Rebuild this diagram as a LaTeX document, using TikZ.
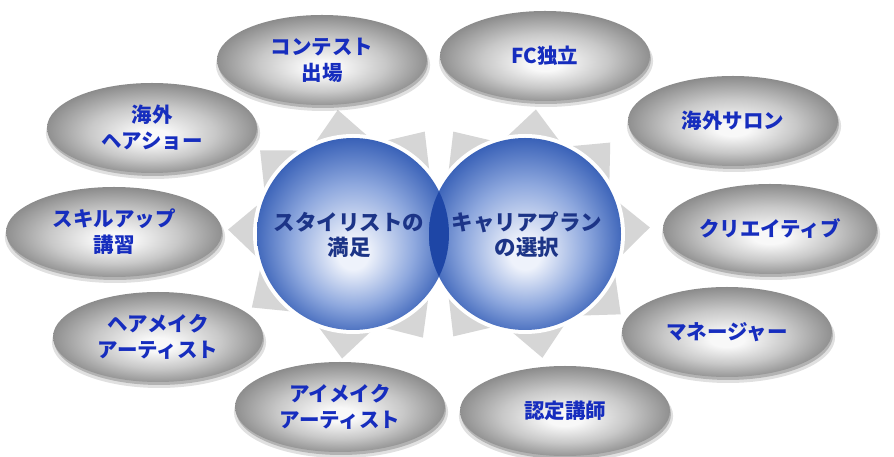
\documentclass[tikz,border=0pt]{standalone}
\usepackage{fontspec}
\setmainfont{Noto Sans CJK JP}
\usetikzlibrary{shapes.geometric,shadows}
\definecolor{tri}{RGB}{214,214,214}
\definecolor{ballhi}{RGB}{238,242,251}
\definecolor{ballmid}{RGB}{142,168,222}
\definecolor{balledge}{RGB}{58,98,184}
\definecolor{balledgeb}{RGB}{45,82,168}
\definecolor{lens}{RGB}{30,70,166}
\definecolor{eggW}{RGB}{248,248,248}
\definecolor{eggM}{RGB}{200,200,200}
\definecolor{eggE}{RGB}{138,138,138}
\definecolor{etext}{RGB}{22,45,190}
\definecolor{ctext}{RGB}{28,52,135}
\pgfdeclareradialshading{ball}{\pgfpoint{0bp}{-6bp}}{color(0bp)=(ballhi); color(4bp)=(ballhi); color(16bp)=(ballmid); color(26bp)=(balledge); color(32bp)=(balledgeb)}
\pgfdeclareradialshading{egg}{\pgfpoint{0bp}{-5bp}}{color(0bp)=(eggW); color(4bp)=(eggW); color(15bp)=(eggM); color(26bp)=(eggE); color(31bp)=(eggE)}
\tikzset{
  egg/.style={ellipse, minimum width=210pt, minimum height=90pt, inner sep=0pt,
    shading=egg, text=etext, align=center,
    font=\bfseries\fontsize{20.5}{26}\selectfont,
    general shadow={shadow xshift=1pt, shadow yshift=-5pt, opacity=0.12, fill=black, shadow scale=1.02},
    general shadow={shadow xshift=1pt, shadow yshift=-3pt, opacity=0.2, fill=black}},
  ball/.style={circle, minimum size=192pt, inner sep=0pt, shading=ball},
  balltext/.style={text=ctext, align=center, font=\bfseries\fontsize{21.5}{25}\selectfont},
  ray/.style={fill=tri}
}
\newcommand{\rayat}[2]{%
  \begin{scope}[shift={#1}, rotate=#2]
    \fill[ray] (125,0) -- (60,58) -- (60,-58) -- cycle;
  \end{scope}}
\begin{document}
\begin{tikzpicture}[x=1pt,y=1pt]
\useasboundingbox (0,0) rectangle (894,457);
\fill[white] (0,0) rectangle (894,457);
% rays
\foreach \a in {55,97,138,178,216,265,304} {\rayat{(353,223)}{\a}}
\foreach \a in {3,47,85,125,235,278,320} {\rayat{(525,223)}{\a}}
% white halos
\fill[white] (353,223) circle (100pt);
\fill[white] (525,223) circle (100pt);
% central circles
\node[ball] (L) at (353,223) {};
\node[ball] (R) at (525,223) {};
\begin{scope}
  \clip (353,223) circle (96pt);
  \fill[lens] (525,223) circle (96pt);
\end{scope}
\node[balltext] (Lt) at (349,222) {スタイリストの\\満足};
\node[balltext] (Rt) at (527,222) {キャリアプラン\\の選択};
% outer ellipses
\node[egg] (e1) at (322,397) {コンテスト\\出場};
\node[egg] (e2) at (152,329) {海外\\ヘアショー};
\node[egg, minimum width=216pt] (e3) at (114,225) {スキルアップ\\講習};
\node[egg] (e4) at (158,120) {ヘアメイク\\アーティスト};
\node[egg] (e5) at (340,50) {アイメイク\\アーティスト};
\node[egg] (e6) at (545,401) {FC独立};
\node[egg] (e7) at (733,336) {海外サロン};
\node[egg, minimum width=214pt] (e8) at (770,228) {クリエイティブ};
\node[egg] (e9) at (727,125) {マネージャー};
\node[egg] (e10) at (565,46) {認定講師};
\end{tikzpicture}
\end{document}
